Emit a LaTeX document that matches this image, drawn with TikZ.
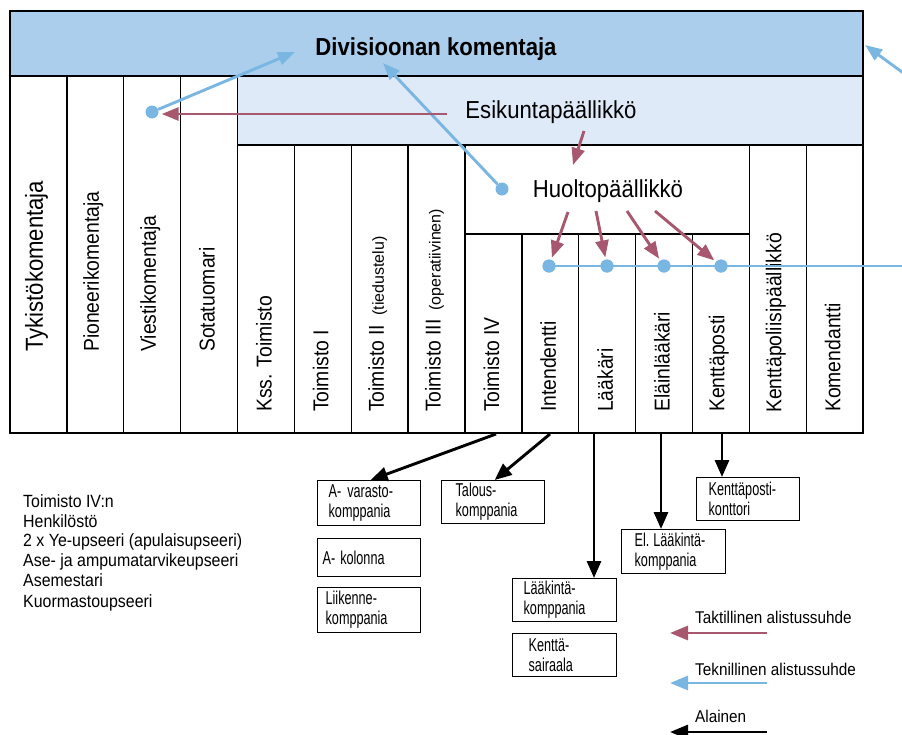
\documentclass[tikz,border=0pt]{standalone}
\usepackage{fontspec}
\setmainfont{Liberation Sans}[FakeStretch=0.9]
\newfontfamily\narrowfont{Liberation Sans}[FakeStretch=0.68]
\newfontfamily\plainfont{Liberation Sans}
\usetikzlibrary{arrows.meta}
\definecolor{bandblue}{RGB}{171,206,236}
\definecolor{paleblue}{RGB}{222,234,248}
\definecolor{techblue}{RGB}{122,182,226}
\definecolor{tactred}{RGB}{168,88,110}
\begin{document}
\begin{tikzpicture}[x=1pt,y=-1pt,
  gridline/.style={line width=1.4pt, black},
  collabel/.style={rotate=90, anchor=west, inner sep=0pt, font=\fontsize{21.5}{24}\selectfont},
  biglabel/.style={rotate=90, anchor=west, inner sep=0pt, font=\fontsize{24.6}{28}\selectfont},
  headtext/.style={anchor=base, inner sep=0pt, font=\fontsize{24.6}{28}\selectfont},
  listtext/.style={anchor=base west, inner sep=0pt, font=\fontsize{17.7}{20}\selectfont},
  legendtext/.style={anchor=base west, inner sep=0pt, font=\fontsize{17}{20}\selectfont},
  smallbox/.style={draw, line width=1.3pt, anchor=north west, align=left, inner ysep=0pt,
     font=\narrowfont\fontsize{18.6}{20}\selectfont},
  techarrow/.style={draw=techblue, line width=2.9pt, -{Triangle[length=17pt,width=13pt]}},
  tactarrow/.style={draw=tactred, line width=2.9pt, -{Triangle[length=17pt,width=13pt]}},
  subarrow/.style={draw=black, line width=2.9pt, -{Triangle[length=17pt,width=14pt]}},
  dot/.style={circle, fill=techblue, inner sep=0pt, minimum size=13pt}]
\useasboundingbox (0,0) rectangle (902,734);

% bands
\fill[bandblue] (10,11) rectangle (863,76);
\fill[paleblue] (237.5,76) rectangle (863,145);

% grid
\draw[gridline] (10,11) rectangle (863,433);
\draw[gridline] (10,76) -- (863,76);
\draw[gridline] (237.5,145) -- (863,145);
\draw[gridline] (465,234) -- (749.3,234);
\foreach \x in {66.9,123.7,180.6,237.5} \draw[gridline] (\x,76) -- (\x,433);
\foreach \x in {294.3,351.2,408.1,465,749.3,806.2} \draw[gridline] (\x,145) -- (\x,433);
\foreach \x in {521.8,578.7,635.6,692.4} \draw[gridline] (\x,234) -- (\x,433);

% headings
\node[headtext, font=\bfseries\fontsize{24.6}{28}\selectfont] (title) at (436,55) {Divisioonan komentaja};
\node[headtext] (esikunta) at (551,118.5) {Esikuntapäällikkö};
\node[headtext] (huolto) at (608,197) {Huoltopäällikkö};

% column labels
\node[biglabel] (c1) at (36.4,352) {Tykistökomentaja};
\node[collabel] (c2) at (93.3,352) {Pioneerikomentaja};
\node[collabel] (c3) at (150.2,352) {Viestikomentaja};
\node[collabel] (c4) at (207,352) {Sotatuomari};
\node[collabel] (c5) at (263.9,412) {Kss. Toimisto};
\node[collabel] (c6) at (320.8,412) {Toimisto I};
\node[collabel] (c7) at (377.7,412) {Toimisto II\hspace{9pt}{\plainfont\fontsize{16}{20}\selectfont(tiedustelu)}};
\node[collabel] (c8) at (434.5,412) {Toimisto III\hspace{9pt}{\plainfont\fontsize{16}{20}\selectfont(operatiivinen)}};
\node[collabel] (c9) at (491.4,412) {Toimisto IV};
\node[collabel] (c10) at (548.3,412) {Intendentti};
\node[collabel] (c11) at (605.2,412) {Lääkäri};
\node[collabel] (c12) at (662,412) {Eläinlääkäri};
\node[collabel] (c13) at (718.9,412) {Kenttäposti};
\node[collabel] (c14) at (775.8,413) {Kenttäpoliisipäällikkö};
\node[collabel] (c15) at (832.7,412) {Komendantti};

% dots
\node[dot] (d0) at (152,112) {};
\node[dot] (dh) at (502,189) {};
\node[dot] (e1) at (549,266) {};
\node[dot] (e2) at (607,266) {};
\node[dot] (e3) at (664,266) {};
\node[dot] (e4) at (721,266) {};

% coordinates
\coordinate (t1) at (295,52);
\coordinate (t2) at (383,63);
\coordinate (r1) at (447,114);
\coordinate (r2s) at (584,131);
\coordinate (r2t) at (573,165);
\coordinate (h1) at (568,212);
\coordinate (h2) at (596,211);
\coordinate (h3) at (627,211);
\coordinate (h4) at (655,211);
\coordinate (lineend) at (903,266);
\coordinate (rs) at (904,73.5);
\coordinate (rt) at (865,45);

% technical arrows
\draw[techarrow] (d0) -- (t1);
\draw[techarrow] (dh) -- (t2);
\draw[techarrow] (rs) -- (rt);
\draw[draw=techblue, line width=2.9pt] (e1.center) -- (lineend);
\node[dot] at (e1) {};
\node[dot] at (e2) {};
\node[dot] at (e3) {};
\node[dot] at (e4) {};

% tactical arrows
\draw[tactarrow, shorten >=3pt] (r1) -- (r1 -| d0.east);
\draw[tactarrow] (r2s) -- (r2t);
\draw[tactarrow, shorten >=2pt] (h1) -- (e1);
\draw[tactarrow, shorten >=2pt] (h2) -- (e2);
\draw[tactarrow, shorten >=2pt] (h3) -- (e3);
\draw[tactarrow, shorten >=2pt] (h4) -- (e4);

% boxes
\node[smallbox, minimum height=45pt, inner xsep=11pt, text width=81pt] (bvar) at (317,480) {A-\hspace{6pt}varasto-\\komppania};
\node[smallbox, minimum height=38pt, inner xsep=5pt, text width=93pt] (bkol) at (317,538) {A-\hspace{5pt}kolonna};
\node[smallbox, minimum height=45pt, inner xsep=8pt, text width=87pt] (blii) at (317,587) {Liikenne-\\komppania};
\node[smallbox, minimum height=43pt, inner xsep=14pt, text width=75pt] (btal) at (441,480) {Talous-\\komppania};
\node[smallbox, minimum height=43pt, inner xsep=11pt, text width=82pt] (blk) at (512,578) {Lääkintä-\\komppania};
\node[smallbox, minimum height=43pt, inner xsep=16pt, text width=72pt] (bsai) at (512,633) {Kenttä-\\sairaala};
\node[smallbox, minimum height=44pt, inner xsep=13pt, text width=78pt] (bel) at (621,529) {El.\hspace{4pt}Lääkintä-\\komppania};
\node[smallbox, minimum height=43pt, inner xsep=12pt, text width=79pt] (bkp) at (696,477) {Kenttäposti-\\konttori};

% subordinate arrows
\coordinate (s1) at (496,434);
\coordinate (s2) at (550,434);
\coordinate (s3) at (594,433);
\coordinate (s4) at (661,433);
\coordinate (s5) at (722,433);
\draw[subarrow] (s1) -- ([xshift=1.5pt]bvar.north);
\draw[subarrow] (s2) -- ([xshift=1.5pt]btal.north);
\draw[subarrow] (s3) -- (s3 |- blk.north);
\draw[subarrow] (s4) -- (s4 |- bel.north);
\draw[subarrow] (s5) -- (s5 |- bkp.north);

% left list
\node[listtext] (l1) at (23,507) {Toimisto IV:n};
\node[listtext] (l2) at (23,527) {Henkilöstö};
\node[listtext] (l3) at (23,546.5) {2 x Ye-upseeri (apulaisupseeri)};
\node[listtext] (l4) at (23,566) {Ase- ja ampumatarvikeupseeri};
\node[listtext] (l5) at (23,586) {Asemestari};
\node[listtext] (l6) at (23,607) {Kuormastoupseeri};

% legend
\node[legendtext] (lg1) at (695,623) {Taktillinen alistussuhde};
\node[legendtext] (lg2) at (695,675) {Teknillinen alistussuhde};
\node[legendtext] (lg3) at (695,722) {Alainen};
\coordinate (a1s) at (767,633); \coordinate (a1t) at (670,633);
\coordinate (a2s) at (767,683); \coordinate (a2t) at (670,683);
\coordinate (a3s) at (767,732); \coordinate (a3t) at (670,732);
\draw[tactarrow, -{Triangle[length=18pt,width=14pt]}] (a1s) -- (a1t);
\draw[techarrow, -{Triangle[length=18pt,width=14pt]}] (a2s) -- (a2t);
\draw[subarrow, -{Triangle[length=18pt,width=14pt]}] (a3s) -- (a3t);
\end{tikzpicture}
\end{document}
